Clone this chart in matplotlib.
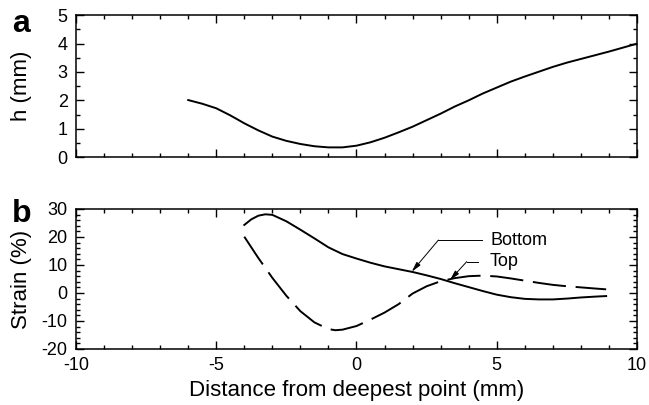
import matplotlib
matplotlib.use("Agg")
import matplotlib.pyplot as plt
from matplotlib.ticker import MultipleLocator

plt.rcParams["font.family"] = ["Liberation Sans", "DejaVu Sans"]
plt.rcParams["axes.unicode_minus"] = False
plt.rcParams["lines.scale_dashes"] = False

# gap height along the specimen
h_x = [-6, -5.5, -5, -4.5, -4, -3.5, -3, -2.5, -2, -1.5, -1, -0.5, 0, 0.5, 1,
       1.5, 2, 2.5, 3, 3.5, 4, 4.5, 5, 5.5, 6, 6.5, 7, 7.5, 8, 8.5, 9, 9.5, 10]
h_mm = [2.01, 1.88, 1.72, 1.47, 1.19, 0.94, 0.72, 0.57, 0.46, 0.38, 0.34, 0.34,
        0.40, 0.52, 0.68, 0.87, 1.07, 1.30, 1.53, 1.78, 2.00, 2.24, 2.45, 2.66,
        2.84, 3.01, 3.18, 3.33, 3.46, 3.59, 3.72, 3.86, 4.0]

# strain on the bottom surface
bot_x = [-4, -3.75, -3.5, -3.25, -3, -2.5, -2, -1.5, -1, -0.5, 0, 0.5, 1, 1.5,
         2, 2.5, 3, 3.5, 4, 4.5, 5, 5.5, 6, 6.5, 7, 7.5, 8, 8.5, 8.9]
bot_strain = [24.3, 26.3, 27.6, 28.1, 27.9, 25.6, 22.6, 19.5, 16.3, 13.9, 12.3,
              10.8, 9.5, 8.5, 7.5, 6.3, 5.0, 3.5, 2.1, 0.7, -0.6, -1.5, -2.1,
              -2.3, -2.3, -2.0, -1.6, -1.3, -1.1]

# strain on the top surface
top_x = [-4, -3.5, -3, -2.5, -2, -1.5, -1, -0.75, -0.5, 0, 0.5, 1, 1.5, 2,
         2.5, 3, 3.5, 4, 4.5, 5, 5.5, 6, 6.5, 7, 7.5, 8, 8.5, 8.9]
top_strain = [20.1, 12.5, 5.4, -1.0, -6.5, -10.5, -12.9, -13.3, -13.1, -11.8,
              -9.5, -7.0, -4.0, -0.2, 2.4, 4.2, 5.3, 6.0, 6.2, 5.9, 5.2, 4.4,
              3.6, 2.9, 2.4, 2.0, 1.6, 1.3]

x_ticks = [-10, -5, 0, 5, 10]
x_ticklabels = ["-10", "-5", "0", "5", "10"]

fig = plt.figure(figsize=(6.49, 4.05), dpi=100)
ax1 = fig.add_axes([0.1171, 0.6123, 0.8644, 0.3499])
ax2 = fig.add_axes([0.1171, 0.1383, 0.8644, 0.3457])


def style_axes(ax):
    for sp in ax.spines.values():
        sp.set_linewidth(1.1)
    ax.tick_params(which="both", direction="in", top=True, right=True,
                   width=1.0, labelsize=13, colors="black", pad=6)
    ax.tick_params(which="major", length=5.5)
    ax.tick_params(which="minor", length=3)
    ax.set_xlim(-10, 10)
    ax.xaxis.set_major_locator(MultipleLocator(5))
    ax.xaxis.set_minor_locator(MultipleLocator(1))


style_axes(ax1)
ax1.plot(h_x, h_mm, color="black", lw=1.4)
ax1.set_ylim(0, 5)
ax1.yaxis.set_major_locator(MultipleLocator(1))
ax1.yaxis.set_minor_locator(MultipleLocator(0.5))
ax1.set_xticklabels([])
ax1.set_ylabel("h (mm)", fontsize=16)
ax1.yaxis.set_label_coords(-0.079, 0.5)

style_axes(ax2)
ax2.plot(bot_x, bot_strain, color="black", lw=1.4)
ax2.plot(top_x, top_strain, color="black", lw=1.4, dashes=(24, 7))
ax2.set_ylim(-20, 30)
ax2.yaxis.set_major_locator(MultipleLocator(10))
ax2.yaxis.set_minor_locator(MultipleLocator(2))
ax2.set_xticks(x_ticks)
ax2.set_xticklabels(x_ticklabels)
ax2.set_ylabel("Strain (%)", fontsize=16)
ax2.yaxis.set_label_coords(-0.079, 0.5)
ax2.set_xlabel("Distance from deepest point (mm)", fontsize=16, labelpad=4)

# leader lines for the two curves
arrow = dict(arrowstyle="-|>,head_length=0.6,head_width=0.15",
             color="black", lw=0.7, shrinkA=0, shrinkB=0)
ax2.plot([2.92, 4.46], [18.9, 18.9], color="black", lw=0.7)
ax2.annotate("", xy=(1.97, 7.6), xytext=(2.92, 18.9), arrowprops=arrow)
ax2.text(4.76, 18.9, "Bottom", fontsize=13, va="center", ha="left")
ax2.plot([3.93, 4.34], [11.2, 11.2], color="black", lw=0.7)
ax2.annotate("", xy=(3.33, 4.6), xytext=(3.93, 11.2), arrowprops=arrow)
ax2.text(4.76, 11.2, "Top", fontsize=13, va="center", ha="left")

fig.text(0.019, 0.921, "a", fontsize=23, fontweight="bold")
fig.text(0.019, 0.453, "b", fontsize=23, fontweight="bold")

fig.savefig("out.png", dpi=100)
